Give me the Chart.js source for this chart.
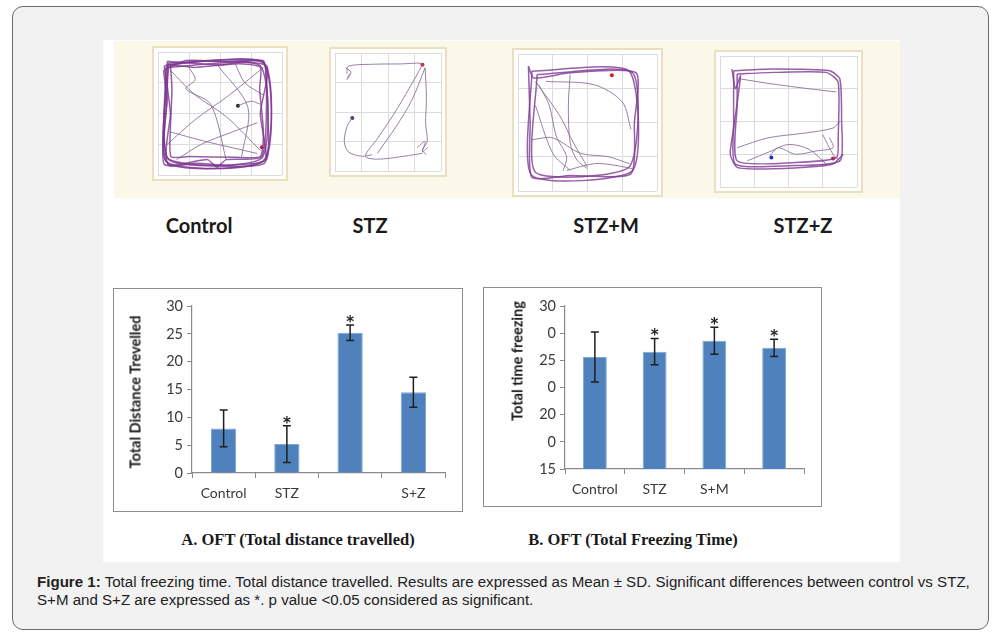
<!DOCTYPE html>
<html>
<head>
<meta charset="utf-8">
<script src="https://cdn.jsdelivr.net/npm/chart.js@4.4.1/dist/chart.umd.min.js"></script>
<style>
  body { margin: 0; width: 1008px; height: 637px; background: #fff; position: relative; overflow: hidden; font-family: Lato, "Noto Sans", sans-serif; }
  .abs { position: absolute; }
  #outer { left: 12px; top: 6px; width: 975px; height: 622px; background: #f2f2f2; border: 1.5px solid #6b6b6b; border-radius: 11px; }
  #img { left: 103px; top: 40px; width: 797px; height: 522px; background: #fff; }
  #band { left: 114px; top: 41px; width: 786px; height: 157px; background: #fbf8ea; }
  .arena { background: #fff; border: 2px solid #eadfbf; box-sizing: border-box; }
  .arena canvas { position: absolute; left: 0; top: 0; }
  .lbl { font-weight: 700; font-size: 20px; color: #1a1a1a; transform: translate(-50%, -50%); white-space: nowrap; }
  .frame { border: 1.5px solid #8e8e8e; box-sizing: border-box; }
  .ytitle { font-weight: 700; font-size: 14.5px; color: #1a1a1a; transform: translate(-50%, -50%) rotate(-90deg); white-space: nowrap; }
  .cap { font-family: "Liberation Serif", serif; font-weight: 700; font-size: 16.5px; color: #1a1a1a; transform: translate(-50%, -50%); white-space: nowrap; }
  #caption { left: 37px; top: 573px; width: 940px; font-family: "Liberation Sans", Arial, sans-serif; font-size: 15.1px; line-height: 18px; color: #222; }
</style>
</head>
<body>
<div id="outer" class="abs"></div>
<div id="img" class="abs"></div>
<div id="band" class="abs"></div>

<div class="abs arena" style="left:152px;top:46px;width:136px;height:135px"><canvas id="arena0" width="132" height="131"></canvas></div>
<div class="abs arena" style="left:329px;top:47px;width:118px;height:130px"><canvas id="arena1" width="114" height="126"></canvas></div>
<div class="abs arena" style="left:512px;top:48px;width:151px;height:149px"><canvas id="arena2" width="147" height="145"></canvas></div>
<div class="abs arena" style="left:714px;top:50px;width:149px;height:143px"><canvas id="arena3" width="145" height="139"></canvas></div>

<div class="abs lbl" style="left:199px;top:225px">Control</div>
<div class="abs lbl" style="left:370px;top:225px">STZ</div>
<div class="abs lbl" style="left:606px;top:225px">STZ+M</div>
<div class="abs lbl" style="left:803px;top:225px">STZ+Z</div>

<div class="abs frame" style="left:113px;top:288px;width:350px;height:224px;background:#fff"></div>
<canvas id="chartA" class="abs" style="left:113px;top:288px" width="350" height="224"></canvas>
<div class="abs ytitle" style="left:135px;top:392px">Total Distance Trevelled</div>
<div class="abs cap" style="left:298px;top:540px">A. OFT (Total distance travelled)</div>

<div class="abs frame" style="left:483px;top:287px;width:339px;height:220px;background:#fff"></div>
<canvas id="chartB" class="abs" style="left:483px;top:287px" width="339" height="220"></canvas>
<div class="abs ytitle" style="left:517px;top:361px">Total time freezing</div>
<div class="abs cap" style="left:633px;top:540px">B. OFT (Total Freezing Time)</div>

<div id="caption" class="abs"><b>Figure 1:</b> Total freezing time. Total distance travelled. Results are expressed as Mean ± SD. Significant differences between control vs STZ, S+M and S+Z are expressed as *. p value &lt;0.05 considered as significant.</div>

<script>
// bar chart data
var distLabels = ["Control", "STZ", "", "S+Z"];
var distMeans = [8.0, 5.2, 25.2, 14.5];
var distSD = [3.3, 3.3, 1.4, 2.7];
var distSig = [false, true, true, false];
var distTicks = ["0", "5", "10", "15", "20", "25", "30"];

var freezeLabels = ["Control", "STZ", "S+M", ""];
var freezeMeans = [25.3, 25.8, 26.8, 26.15];
var freezeSD = [2.3, 1.2, 1.25, 0.8];
var freezeSig = [false, true, true, true];
var freezeTicks = ["15", "0", "20", "0", "25", "0", "30"];

// tracking paths, grid units (0..4), y downwards
var controlLoops = [
  [[0.3,0.4],[3.4,0.35],[3.45,3.5],[0.3,3.6],[0.3,0.4]],
  [[0.25,0.5],[3.3,0.45],[3.35,3.45],[0.35,3.5],[0.25,0.5]],
  [[0.35,0.35],[3.45,0.4],[3.4,3.55],[0.25,3.55],[0.35,0.35]],
  [[0.2,0.45],[1.5,0.3],[3.5,0.45],[3.3,2],[3.45,3.6],[1.8,3.7],[0.3,3.45],[0.4,2],[0.2,0.45]],
  [[0.3,0.3],[2.0,0.42],[3.38,0.3],[3.5,1.5],[3.35,3.4],[2.2,3.5],[1.9,3.75],[1.6,3.5],[0.2,3.65],[0.3,1.5],[0.3,0.3]],
  [[0.4,0.42],[1.2,0.5],[2.6,0.38],[3.3,0.5],[3.28,1.2],[3.4,2.6],[3.3,3.4],[2.5,3.42],[1.0,3.4],[0.42,3.4],[0.4,2.5],[0.45,1.2],[0.4,0.42]],
  [[0.18,0.6],[0.28,1.6],[0.2,2.8],[0.35,3.7],[1.2,3.62],[2.4,3.68],[3.5,3.5],[3.55,2.2],[3.5,0.9],[3.4,0.28],[2.2,0.32],[0.9,0.28],[0.18,0.6]]
];
var controlPaths = [
  [[0.4,0.6],[1.2,1.4],[2.2,2.1],[3.3,3.2]],
  [[0.3,3.0],[1.2,2.2],[2.3,1.4],[3.4,0.5]],
  [[1.0,0.5],[1.2,0.9],[0.9,1.2],[1.7,1.7],[2.2,3.5]],
  [[2.5,0.4],[2.8,1.0],[3.4,1.4]],
  [[0.4,2.6],[1.5,2.9],[3.2,3.3]],
  [[2.58,1.75],[3.0,1.6],[3.3,1.7]],
  [[0.6,3.5],[1.4,3.0],[2.4,2.6],[3.2,2.3]],
  [[1.9,0.4],[2.9,1.8],[2.7,3.4]]
];
var stzLoops = [];
var stzPaths = [
  [[0.45,0.7],[0.5,0.45],[1.5,0.38],[2.5,0.37],[3.25,0.35],[3.35,0.45]],
  [[3.3,0.4],[2.8,1.2],[2.2,2.1],[1.6,2.9],[1.15,3.5],[1.6,3.6],[2.6,3.5],[3.3,3.4]],
  [[3.4,0.5],[3.45,1.5],[3.42,2.4],[3.48,3.0],[3.3,3.3],[3.45,3.45]],
  [[0.65,2.2],[0.45,2.5],[0.35,3.0],[0.5,3.35],[1.0,3.5],[1.4,3.45]],
  [[3.4,0.5],[2.9,1.6],[2.3,2.5],[1.6,3.4]],
  [[0.4,0.5],[0.6,0.65],[0.45,0.9],[0.55,0.7]],
  [[3.1,3.2],[3.4,3.0],[3.3,3.35],[3.5,3.2]]
];
var stzmLoops = [
  [[0.4,0.5],[3.2,0.5],[3.3,3.4],[0.4,3.55],[0.4,0.5]],
  [[0.55,0.6],[3.3,0.55],[3.2,3.3],[0.5,3.45],[0.55,0.6]],
  [[0.3,0.35],[0.45,0.7],[1.5,0.55],[3.4,0.55],[3.35,2.0],[3.25,3.5],[1.5,3.55],[0.4,3.6],[0.35,2.0],[0.3,0.35]]
];
var stzmPaths = [
  [[0.5,0.8],[1.2,1.8],[1.6,2.6],[2.0,3.3]],
  [[0.6,0.9],[0.9,1.5],[1.1,2.4],[1.4,3.0],[1.3,3.4]],
  [[1.5,0.6],[1.45,1.5],[1.5,2.6],[1.7,3.1],[2.0,3.35]],
  [[0.8,0.8],[2.2,0.9],[3.0,1.4],[3.25,2.2]],
  [[0.4,2.5],[1.0,2.45],[1.8,2.9],[2.6,3.0],[3.2,3.2]],
  [[0.5,1.5],[1.0,2.9],[1.5,3.4]],
  [[1.4,3.4],[2.2,3.2],[2.8,3.25],[3.3,3.35]]
];
var stzzLoops = [
  [[0.4,0.45],[1.5,0.4],[3.2,0.45],[3.5,0.7],[3.55,2.0],[3.5,3.2],[2.0,3.35],[0.45,3.3],[0.4,2.0],[0.4,0.45]],
  [[0.5,0.55],[1.6,0.5],[3.1,0.5],[3.45,0.8],[3.45,2.5],[3.4,3.1],[2.2,3.25],[0.5,3.2],[0.5,1.5],[0.5,0.55]],
  [[0.35,0.4],[0.45,1.0],[0.6,0.6],[0.4,2.2],[0.3,3.0],[0.5,3.4],[1.3,3.45],[2.5,3.4],[3.3,3.3],[3.6,3.0]]
];
var stzzPaths = [
  [[0.6,0.7],[1.5,0.85],[2.6,1.0],[3.4,1.1]],
  [[0.5,2.8],[1.4,2.5],[2.5,2.35],[3.3,2.2],[3.5,2.0]],
  [[1.45,3.05],[1.7,2.8],[2.2,3.0],[2.8,2.9],[3.3,2.8],[3.2,2.5]],
  [[0.8,3.2],[1.5,2.9],[2.0,2.7],[2.6,2.85],[3.1,3.3]],
  [[3.0,2.4],[3.3,3.0],[3.5,3.2]]
];
var arenaDots = [
  [[2.58,1.75,"#222"],[3.35,3.1,"#d02020"]],
  [[0.65,2.2,"#553366"],[3.3,0.4,"#d02020"]],
  [[2.7,0.62,"#d02020"]],
  [[1.5,3.1,"#2030c0"],[3.3,3.13,"#d02020"]]
];

Chart.defaults.font.family = "Lato, 'Noto Sans', sans-serif";
Chart.defaults.animation = false;

function toXY(path) {
  return path.map(function (p) { return { x: p[0], y: p[1] }; });
}

function drawArena(id, loops, paths, dots) {
  var sets = [];
  loops.forEach(function (p) {
    sets.push({ data: toXY(p), showLine: true, borderColor: "rgba(125,55,145,0.8)", borderWidth: 1.5, pointRadius: 0, tension: 0.2 });
  });
  paths.forEach(function (p) {
    sets.push({ data: toXY(p), showLine: true, borderColor: "rgba(140,115,155,0.9)", borderWidth: 1, pointRadius: 0, tension: 0.3 });
  });
  sets.push({
    data: dots.map(function (d) { return { x: d[0], y: d[1] }; }),
    pointRadius: 2, pointBackgroundColor: dots.map(function (d) { return d[2]; }), pointBorderWidth: 0
  });
  new Chart(document.getElementById(id), {
    type: "scatter",
    data: { datasets: sets },
    options: {
      responsive: false,
      layout: { padding: 0 },
      plugins: { legend: { display: false }, tooltip: { enabled: false } },
      scales: {
        x: { min: 0, max: 4, ticks: { display: false, stepSize: 1 }, grid: { color: "#dcdcdc", drawTicks: false }, border: { display: false } },
        y: { min: 0, max: 4, reverse: true, ticks: { display: false, stepSize: 1 }, grid: { color: "#dcdcdc", drawTicks: false }, border: { display: false } }
      }
    }
  });
}

drawArena("arena0", controlLoops, controlPaths, arenaDots[0]);
drawArena("arena1", stzLoops, stzPaths, arenaDots[1]);
drawArena("arena2", stzmLoops, stzmPaths, arenaDots[2]);
drawArena("arena3", stzzLoops, stzzPaths, arenaDots[3]);

// error bars and asterisks, placed through the chart's own scales
var errorBars = {
  id: "errorBars",
  afterDatasetsDraw: function (chart, args, opts) {
    var ctx = chart.ctx;
    var meta = chart.getDatasetMeta(0);
    var ys = chart.scales.y;
    ctx.save();
    ctx.strokeStyle = "#1f1f1f";
    ctx.lineWidth = 1.5;
    meta.data.forEach(function (bar, i) {
      var m = opts.means[i], e = opts.sd[i];
      var top = ys.getPixelForValue(m + e);
      var bot = ys.getPixelForValue(m - e);
      ctx.beginPath();
      ctx.moveTo(bar.x, top); ctx.lineTo(bar.x, bot);
      ctx.moveTo(bar.x - 4, top); ctx.lineTo(bar.x + 4, top);
      ctx.moveTo(bar.x - 4, bot); ctx.lineTo(bar.x + 4, bot);
      ctx.stroke();
      if (opts.sig[i]) {
        ctx.fillStyle = "#1f1f1f";
        ctx.font = "bold 15px 'DejaVu Sans'";
        ctx.textAlign = "center";
        ctx.textBaseline = "middle";
        ctx.fillText("*", bar.x, top - 2);
      }
    });
    ctx.restore();
  }
};

function drawBars(id, labels, means, sd, sig, tickText, yMin, yMax, step, axisW, padTop, padRight, xAxisH) {
  new Chart(document.getElementById(id), {
    type: "bar",
    data: {
      labels: labels,
      datasets: [{
        data: means,
        backgroundColor: "#4f81bd",
        borderColor: "#7ea6d6",
        borderWidth: 1,
        barPercentage: 0.4,
        categoryPercentage: 1
      }]
    },
    plugins: [errorBars],
    options: {
      responsive: false,
      layout: { padding: { top: padTop, right: padRight, left: 0, bottom: 0 } },
      plugins: {
        legend: { display: false },
        tooltip: { enabled: false },
        errorBars: { means: means, sd: sd, sig: sig }
      },
      scales: {
        x: {
          grid: { drawOnChartArea: false, tickLength: 5, color: "#8a8a8a" },
          border: { color: "#8a8a8a", width: 1.2 },
          ticks: { color: "#3a3a3a", font: { size: 14 }, padding: 7, maxRotation: 0 },
          afterFit: function (s) { s.height = xAxisH; }
        },
        y: {
          min: yMin, max: yMax,
          grid: { drawOnChartArea: false, tickLength: 5, color: "#8a8a8a" },
          border: { color: "#8a8a8a", width: 1.2 },
          ticks: {
            stepSize: step, color: "#3a3a3a", font: { size: 14.5 }, padding: 4,
            callback: function (v, i) { return tickText[i]; }
          },
          afterFit: function (s) { s.width = axisW; }
        }
      }
    }
  });
}

drawBars("chartA", distLabels, distMeans, distSD, distSig, distTicks, 0, 30, 5, 79, 18, 18, 39);
drawBars("chartB", freezeLabels, freezeMeans, freezeSD, freezeSig, freezeTicks, 15, 30, 2.5, 82, 19, 18, 38);
</script>
</body>
</html>
